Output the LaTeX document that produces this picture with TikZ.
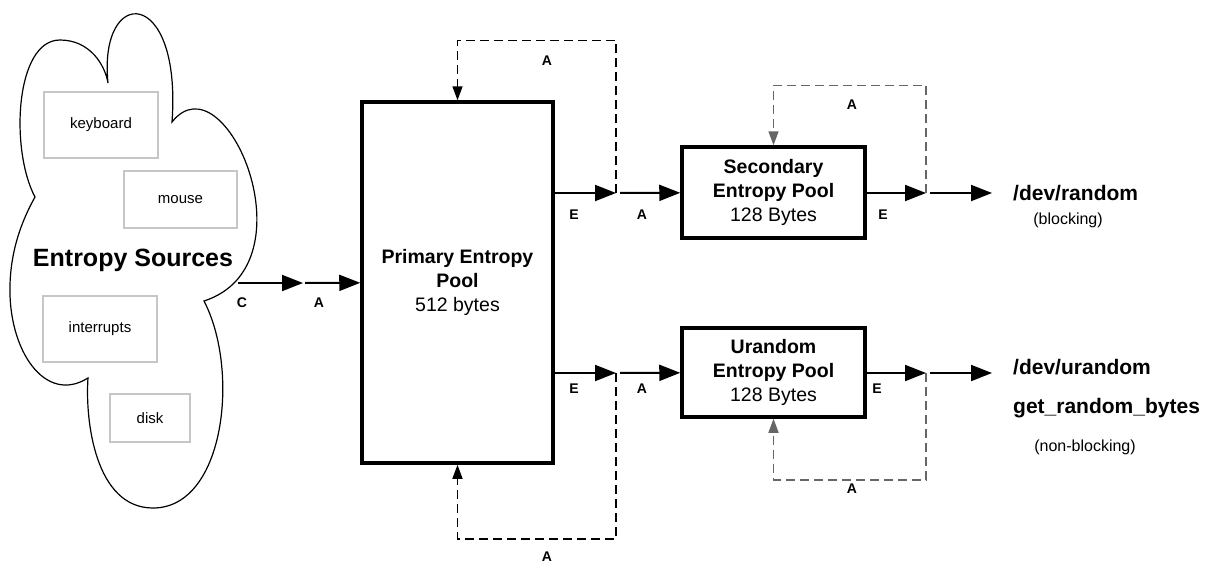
\documentclass[tikz,border=0pt]{standalone}
\usepackage{fontspec}
\setmainfont{Liberation Sans}
\usetikzlibrary{arrows.meta,positioning,calc}

\begin{document}
\begin{tikzpicture}[x=1pt,y=-1pt,>={Triangle[length=21pt,width=16pt]},
  pool/.style={draw,line width=3.5pt,inner sep=0pt,align=center,font=\fontsize{19.5}{24}\selectfont},
  src/.style={draw=gray!45,line width=1.2pt,inner sep=0pt,font=\fontsize{15}{18}\selectfont},
  flow/.style={->,line width=2pt},
  fb/.style={-{Triangle[length=14pt,width=10pt]},line width=1.5pt,dash pattern=on 9pt off 5pt},
  lbl/.style={font=\fontsize{14}{16}\selectfont\bfseries},
  outname/.style={anchor=west,inner sep=3pt,font=\fontsize{21}{24}\selectfont\bfseries},
  note/.style={font=\fontsize{16}{18}\selectfont}]
  \useasboundingbox (0,0) rectangle (1214,563);
  % the cloud of sources
  \draw[line width=1.2pt] (108,83) .. controls (98,-15) and (182,-15) .. (172,122)
    .. controls (225,55) and (315,265) .. (204,301)
    .. controls (240,370) and (225,508) .. (153,508)
    .. controls (95,508) and (85,420) .. (88,378)
    .. controls (45,405) and (8,350) .. (10,285)
    .. controls (11,245) and (25,215) .. (35,197)
    .. controls (10,150) and (15,40) .. (60,40)
    .. controls (90,40) and (105,65) .. (108,83) -- cycle;
  \node[src,minimum width=114pt,minimum height=66pt](kbd)at(101,125){keyboard};
  \node[src,minimum width=113pt,minimum height=57pt](mouse)at(180.5,199.5){mouse};
  \node[src,minimum width=114pt,minimum height=66pt](irq)at(100,329){interrupts};
  \node[src,minimum width=80pt,minimum height=48pt](disk)at(150,418){disk};
  \node[font=\fontsize{25}{28}\selectfont\bfseries](srcs)at(133,260){Entropy Sources};
  % pools
  \node[pool,minimum width=191pt,minimum height=361pt](primary)at(457.5,282.5){\textbf{Primary Entropy}\\\textbf{Pool}\\512 bytes};
  \node[pool,minimum width=183pt,minimum height=91pt](sec)at(773.5,192.5){\textbf{Secondary}\\\textbf{Entropy Pool}\\128 Bytes};
  \node[pool,minimum width=183pt,minimum height=89pt](ura)at(773.5,372.5){\textbf{Urandom}\\\textbf{Entropy Pool}\\128 Bytes};
  % junctions
  \coordinate(srcout)at(238,283); \coordinate(jin)at(303,283);
  \coordinate(jsec)at(616,193); \coordinate(jura)at(616,373);
  \coordinate(jsecout)at(926,193); \coordinate(juraout)at(926,373);
  % outputs
  \node[outname](devr)at(1010,193){/dev/random};
  \node[note](blk)at(1068,220){(blocking)};
  \node[outname](devu)at(1010,367){/dev/urandom};
  \node[outname](grb)at(1010,408){get\_random\_bytes};
  \node[note](nblk)at(1085,447){(non-blocking)};
  % flows
  \draw[flow](srcout)--(jin);
  \draw[flow,shorten <=2pt](jin)--(primary);
  \draw[flow](primary.east|-jsec)--(jsec);
  \draw[flow,shorten <=4pt](jsec)--(sec);
  \draw[flow](primary.east|-jura)--(jura);
  \draw[flow,shorten <=4pt](jura)--(ura);
  \draw[flow](sec.east|-jsecout)--(jsecout);
  \draw[flow,shorten <=4pt,shorten >=18pt](jsecout)--(jsecout-|devr.west);
  \draw[flow](ura.east|-juraout)--(juraout);
  \draw[flow,shorten <=4pt,shorten >=18pt](juraout)--(juraout-|devu.west);
  % feedback
  \draw[fb](jsec)|-([yshift=60pt]primary.north)--(primary.north);
  \draw[fb](jura)|-([yshift=-74pt]primary.south)--(primary.south);
  \draw[fb,black!60](jsecout)|-([yshift=60pt]sec.north)--(sec.north);
  \draw[fb,black!60](juraout)|-([yshift=-61pt]ura.south)--(ura.south);
  % labels
  \node[lbl](lC)at(242,303){C}; \node[lbl](lA0)at(319,303){A};
  \node[lbl](lA1)at(547,61){A}; \node[lbl](lA2)at(547,557){A};
  \node[lbl](lE1)at(574,215){E}; \node[lbl](lE2)at(574,389){E};
  \node[lbl](lA3)at(642,215){A}; \node[lbl](lA4)at(642,389){A};
  \node[lbl](lA5)at(852,105){A}; \node[lbl](lA6)at(852,489){A};
  \node[lbl](lE3)at(883,215){E}; \node[lbl](lE4)at(877,389){E};
\end{tikzpicture}
\end{document}
